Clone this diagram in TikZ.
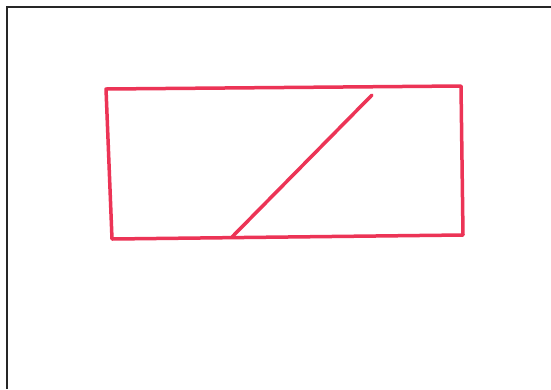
\documentclass[tikz,border=0pt]{standalone}
\begin{document}
\begin{tikzpicture}[x=1pt,y=-1pt,
  ink/.style={draw=inkred,line width=3.5pt,line cap=round,line join=round},
  frame/.style={draw=black!85,line width=2pt}]
\definecolor{inkred}{RGB}{236,52,86}
\useasboundingbox (0,0) rectangle (551,389);
\fill[white] (0,0) rectangle (551,389);
% scanned page border
\coordinate (fb) at (7,389);
\coordinate (fc) at (7,7);
\coordinate (fr) at (551,7);
\draw[frame] (fb) -- (fc) -- (fr);
% hand-drawn rectangle
\coordinate (tl) at (106,89);
\coordinate (tr) at (461,86);
\coordinate (br) at (463,235);
\coordinate (bl) at (112,239);
\coordinate (d1) at (232,237);
\coordinate (d2) at (372,95);
\draw[ink] (tl) -- (tr) -- (br) -- (bl) -- cycle;
\draw[ink] (d1) -- (d2);
\end{tikzpicture}
\end{document}
